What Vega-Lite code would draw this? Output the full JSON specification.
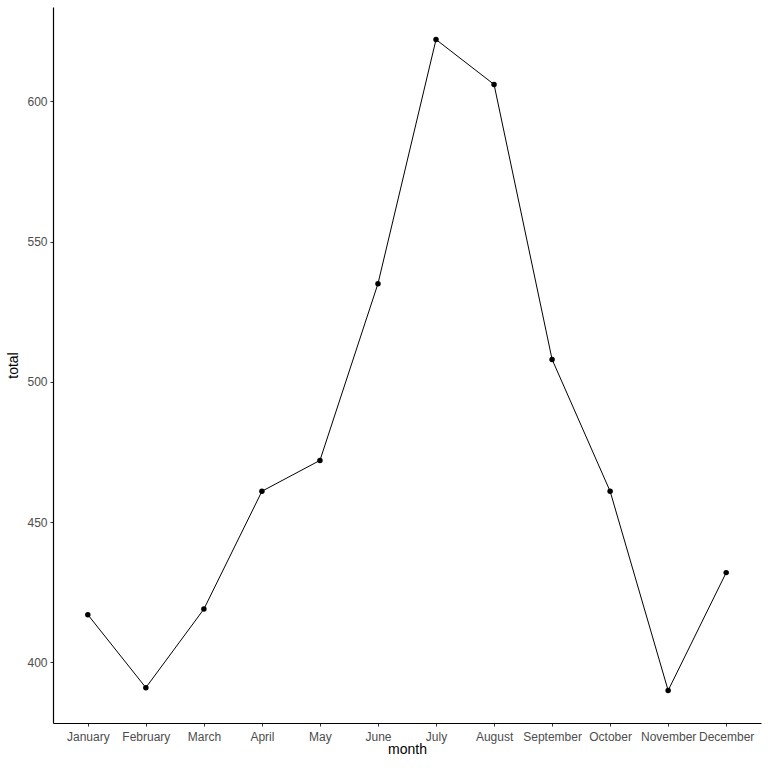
{
  "$schema": "https://vega.github.io/schema/vega-lite/v6.json",
  "autosize": "none",
  "width": 708,
  "height": 716,
  "padding": {"left": 53, "top": 7, "right": 7, "bottom": 45},
  "background": "white",
  "config": {"view": {"stroke": null}, "font": "Liberation Sans"},
  "data": {"values": [
    {"month": "January", "total": 417},
    {"month": "February", "total": 391},
    {"month": "March", "total": 419},
    {"month": "April", "total": 461},
    {"month": "May", "total": 472},
    {"month": "June", "total": 535},
    {"month": "July", "total": 622},
    {"month": "August", "total": 606},
    {"month": "September", "total": 508},
    {"month": "October", "total": 461},
    {"month": "November", "total": 390},
    {"month": "December", "total": 432}
  ]},
  "encoding": {
    "x": {"field": "month", "type": "ordinal", "sort": null,
      "scale": {"type": "point", "padding": 0.6},
      "axis": {"title": "month", "labelAngle": 0, "labelFontSize": 12, "labelColor": "#4d4d4d", "labelPadding": 5,
        "domainColor": "black", "domainWidth": 1.2, "tickColor": "#333333", "tickSize": 3, "tickWidth": 1,
        "titleFontSize": 14, "titleFontWeight": "normal", "titleColor": "black", "titlePadding": 0, "grid": false}},
    "y": {"field": "total", "type": "quantitative",
      "scale": {"domain": [378.4, 633.6], "zero": false, "nice": false},
      "axis": {"title": "total", "values": [400, 450, 500, 550, 600], "labelFontSize": 12, "labelColor": "#4d4d4d", "labelPadding": 3,
        "domainColor": "black", "domainWidth": 1.2, "tickColor": "#333333", "tickSize": 3, "tickWidth": 1,
        "titleFontSize": 14, "titleFontWeight": "normal", "titleColor": "black", "titlePadding": 6, "grid": false}}
  },
  "layer": [
    {"mark": {"type": "line", "color": "black", "strokeWidth": 1}},
    {"mark": {"type": "point", "filled": true, "color": "black", "size": 30, "opacity": 1}}
  ]
}
